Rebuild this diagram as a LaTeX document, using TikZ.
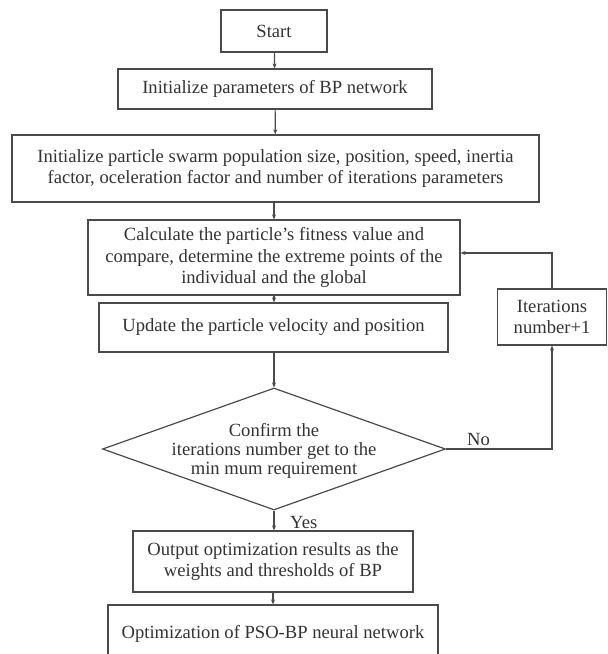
\documentclass[tikz,border=0pt]{standalone}
\usepackage{fontspec}
\setmainfont{Liberation Serif}
\usetikzlibrary{shapes.geometric,arrows.meta}
\definecolor{linec}{HTML}{4A4A4A}
\definecolor{textc}{HTML}{333333}
\tikzset{
  flowbox/.style={draw=linec, line width=1.2pt, inner sep=0pt, align=center, text=textc,
    font=\fontsize{18.6}{21.5}\selectfont},
  decshape/.style={draw=linec, line width=1.2pt, diamond, inner sep=0pt},
  plain/.style={inner sep=0pt, align=center, text=textc, font=\fontsize{18.6}{19}\selectfont},
  arr/.style={draw=linec, line width=1.2pt, -{Stealth[length=5pt,width=4pt]}},
  conn/.style={draw=linec, line width=1.2pt}
}
\begin{document}
\begin{tikzpicture}[x=1pt,y=-1pt]
\useasboundingbox (0,0) rectangle (608,654);
\node[flowbox, minimum width=106pt, minimum height=42pt] (start) at (274,31) {Start};
\node[flowbox, minimum width=314pt, minimum height=40pt] (bp) at (275,89) {Initialize parameters of BP network};
\node[flowbox, minimum width=527pt, minimum height=67pt] (init) at (275.5,168.5) {Initialize particle swarm population size, position, speed, inertia\\factor, oceleration factor and number of iterations parameters};
\node[flowbox, minimum width=372pt, minimum height=75pt] (calc) at (274,257.5) {Calculate the particle's fitness value and\\compare, determine the extreme points of the\\individual and the global};
\node[flowbox, minimum width=349pt, minimum height=49pt] (upd) at (273.5,327.5) {Update the particle velocity and position};
\node[decshape, minimum width=343pt, minimum height=122pt] (dec) at (274,449) {};
\node[plain] (dectext) at (274,451) {Confirm the\\iterations number get to the\\min mum requirement};
\node[flowbox, minimum width=109pt, minimum height=56pt] (iter) at (552,317) {Iterations\\number+1};
\node[flowbox, minimum width=280pt, minimum height=61pt] (out) at (273,561.5) {Output optimization results as the\\weights and thresholds of BP};
\node[flowbox, minimum width=330pt, minimum height=57pt] (final) at (273,633.5) {Optimization of PSO-BP neural network};
\node[plain, anchor=west] (yes) at (290,522) {Yes};
\node[plain, anchor=south west] (no) at (467,446) {No};

\draw[arr] (start) -- (bp);
\draw[arr] (bp) -- (init);
\draw[arr] (init.south -| calc.north) -- (calc);
\draw[arr] (calc) -- (upd.north -| calc.south);
\draw[arr] (upd.south -| dec.north) -- (dec.north);
\draw[arr] (dec.south) -- (out.north -| dec.south);
\draw[arr] (out) -- (final.north -| out.south);
\draw[arr] (dec.east) -| (iter.south);
\draw[arr] (iter.north) |- ([yshift=4.5pt]calc.east);
\end{tikzpicture}
\end{document}
